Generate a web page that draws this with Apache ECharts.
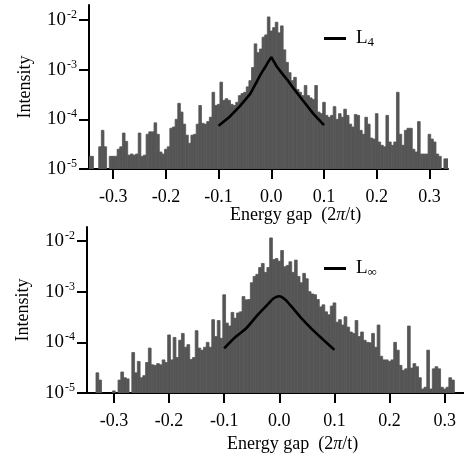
<!DOCTYPE html>
<html><head><meta charset="utf-8">
<script src="https://cdn.jsdelivr.net/npm/echarts@6/dist/echarts.min.js"></script>
<style>html,body{margin:0;padding:0;background:#fff}#c{width:464px;height:459px}</style>
</head><body><div id="c"></div>
<script>
// Histogram bins: centers from binStart, step binWidth
const binStart = -0.345;
const binWidth = 0.005;

const topIntensity = [
  1.8e-5,1.8e-5,0,0,2.8e-5,6e-5,2.8e-5,0,1.8e-5,1.8e-5,
  1.8e-5,2.5e-5,2.8e-5,5.3e-5,3.6e-5,1.9e-5,2e-5,1.9e-5,2e-5,5.3e-5,
  1.8e-5,1.9e-5,5e-5,5.6e-5,5.6e-5,8.5e-5,5e-5,2.2e-5,2e-5,2.5e-5,
  2.8e-5,6.6e-5,7e-5,1.0e-4,2.1e-4,1.4e-4,8e-5,4.8e-5,3.3e-5,4.8e-5,
  5e-5,8e-5,1.9e-4,8.3e-5,8e-5,9e-5,1.1e-4,3.5e-4,1.9e-4,2e-4,
  5.6e-4,2.4e-4,2.6e-4,2.4e-4,2e-4,1.9e-4,2.2e-4,3e-4,3.3e-4,3.5e-4,
  4.5e-4,6e-4,1.1e-3,3.3e-3,2.2e-3,2.6e-3,4.5e-3,5e-3,1.15e-2,6e-3,
  7e-3,9e-3,5.5e-3,7.6e-3,2.5e-3,1.4e-3,8.7e-4,6e-4,7e-4,4e-4,
  3.5e-4,3e-4,4.8e-4,3e-4,2.7e-4,2.5e-4,4.8e-4,1.4e-4,1.3e-4,2.2e-4,
  1.2e-4,1.1e-4,1.2e-4,1.8e-4,1e-4,1.3e-4,1.1e-4,1.6e-4,1.2e-4,8e-5,
  7e-5,1.25e-4,1.2e-4,6e-5,5e-5,1.1e-4,8e-5,4.2e-5,4e-5,1.3e-4,
  3.5e-5,3e-5,2.8e-5,1.2e-4,3.5e-5,3e-5,3.5e-5,3.5e-4,5e-5,3e-5,
  6e-5,6.6e-5,6.6e-5,2.5e-5,2.2e-5,9e-5,2e-5,2e-5,2e-5,5e-5,
  4e-5,3.5e-5,2e-5,1.8e-5,0,1.6e-5,1.6e-5
];

const bottomIntensity = [
  0,0,0,2.5e-5,1.8e-5,0,0,0,0,1.1e-5,
  0,1.8e-5,2.6e-5,2e-5,1.9e-5,0,6.3e-5,2.5e-5,4.2e-5,2e-5,
  2.2e-5,4e-5,7.7e-5,3.6e-5,3.5e-5,3.8e-5,3.6e-5,4.5e-5,4e-5,1.4e-4,
  4.5e-5,1.25e-4,5e-5,1.1e-4,1.5e-4,8e-5,9e-5,4.6e-5,5e-5,1.7e-4,
  7.7e-5,7e-5,8e-5,1e-4,8e-5,2.8e-4,1.3e-4,2.7e-4,1.2e-4,8.7e-4,
  2.4e-4,2.1e-4,3.9e-4,3e-4,3.8e-4,4e-4,8e-4,6.9e-4,7e-4,1.5e-3,
  2e-3,2.2e-3,3e-3,3.6e-3,2.4e-3,3e-3,1.15e-2,4.3e-3,4.5e-3,4e-3,
  6.5e-3,3.1e-3,3.3e-3,3.9e-3,2.4e-3,4.2e-3,2e-3,1.5e-3,2.3e-3,1.8e-3,
  1e-3,9e-4,8.7e-4,7e-4,5e-4,5.5e-4,4e-4,3.5e-4,5.2e-4,6e-4,
  2.5e-4,2.8e-4,2.2e-4,3.2e-4,2e-4,1.6e-4,1.5e-4,2.7e-4,1.3e-4,1.6e-4,
  1.1e-4,1e-4,9.8e-5,1.5e-4,8e-5,2.2e-4,5.3e-5,4.5e-5,4.5e-5,4.2e-5,
  4.5e-5,1e-4,7e-5,3.5e-5,2.8e-5,3e-5,2.1e-4,3.1e-5,3.8e-5,3.3e-5,
  2e-5,1.2e-5,1.3e-5,7e-5,1.2e-5,3e-5,3.3e-5,3e-5,1.3e-5,1.2e-5,
  1.3e-5,2e-5,1.8e-5,0,0,0,0
];

const curveL4X = [-0.1,-0.08,-0.06,-0.04,-0.03,-0.02,-0.01,-0.005,0,0.005,0.01,0.02,0.03,0.04,0.06,0.08,0.1];
const curveL4Y = [7.4e-5,1.1e-4,1.82e-4,3.24e-4,5.1e-4,8.1e-4,1.2e-3,1.48e-3,1.78e-3,1.45e-3,1.17e-3,8.5e-4,6.3e-4,4.5e-4,2.4e-4,1.29e-4,7.6e-5];

const curveLinfX = [-0.1,-0.08,-0.06,-0.04,-0.02,-0.01,0,0.01,0.02,0.04,0.06,0.08,0.1];
const curveLinfY = [7.6e-5,1.26e-4,1.9e-4,3.4e-4,5.75e-4,7.4e-4,8.1e-4,7.1e-4,5.4e-4,3.0e-4,1.78e-4,1.12e-4,7.1e-5];

const xTickValues = [-0.3,-0.2,-0.1,0,0.1,0.2,0.3];
const yTickValues = [1e-5,1e-4,1e-3,1e-2];
const yMin = 1e-5;

const FONT = 'Liberation Serif';
const BAR_COLOR = '#555555';

function binData(arr) {
  return arr.map((v, i) => [binStart + i * binWidth, v]).filter(d => d[1] > yMin);
}
function pairs(xs, ys) { return xs.map((x, i) => [x, ys[i]]); }

function xAxisCfg(idx, min, max) {
  return {
    type: 'value', gridIndex: idx, min: min, max: max,
    axisLine: { onZero: false, lineStyle: { color: '#000', width: 2 } },
    axisTick: { show: true, length: 10, lineStyle: { color: '#000', width: 2 }, customValues: xTickValues },
    axisLabel: { customValues: xTickValues, margin: 19, color: '#000', fontFamily: FONT, fontSize: 18,
      formatter: v => (Math.abs(v) < 1e-9 ? 0 : v).toFixed(1) },
    splitLine: { show: false }
  };
}
function yAxisCfg(idx, max) {
  return {
    type: 'log', logBase: 10, gridIndex: idx, min: yMin, max: max,
    name: 'Intensity', nameLocation: 'middle', nameGap: 55, nameRotate: 90,
    nameTextStyle: { color: '#000', fontFamily: FONT, fontSize: 18 },
    axisLine: { onZero: false, lineStyle: { color: '#000', width: 2 } },
    axisTick: { show: true, length: 10, lineStyle: { color: '#000', width: 2 }, customValues: yTickValues },
    axisLabel: { customValues: yTickValues, margin: 12, color: '#000',
      formatter: v => '{b|10}{s|' + Math.round(Math.log10(v)) + '}',
      rich: {
        b: { fontFamily: FONT, fontSize: 19, color: '#000' },
        s: { fontFamily: FONT, fontSize: 12, color: '#000', verticalAlign: 'top', padding: [0, 0, 10, 1] }
      } },
    minorTick: { show: false },
    splitLine: { show: false }
  };
}
function histSeries(idx, arr) {
  return {
    type: 'custom', xAxisIndex: idx, yAxisIndex: idx, clip: true, silent: true,
    data: binData(arr),
    renderItem: (params, api) => {
      const x = api.value(0), v = api.value(1);
      const p1 = api.coord([x - binWidth / 2, v]);
      const p2 = api.coord([x + binWidth / 2, yMin]);
      return { type: 'rect', shape: { x: p1[0], y: p1[1], width: p2[0] - p1[0], height: p2[1] - p1[1] },
        style: { fill: BAR_COLOR, stroke: BAR_COLOR, lineWidth: 0.8 } };
    },
    z: 1
  };
}
function curveSeries(idx, name, xs, ys, smooth) {
  return {
    type: 'line', name: name, xAxisIndex: idx, yAxisIndex: idx,
    data: pairs(xs, ys), showSymbol: false, smooth: smooth,
    lineStyle: { color: '#000', width: 2.6 }, itemStyle: { color: '#000' }, z: 5
  };
}
function legendCfg(name, sub, top) {
  return {
    data: [name], left: 324, top: top, padding: 0, icon: 'rect', itemWidth: 22, itemHeight: 3,
    selectedMode: false,
    formatter: () => '{m|L}{s|' + sub + '}',
    textStyle: { rich: {
      m: { fontFamily: FONT, fontSize: 19, color: '#000', padding: [0, 0, 0, 5] },
      s: { fontFamily: FONT, fontSize: 13, color: '#000', verticalAlign: 'bottom', padding: [8, 0, 0, 0] }
    } }
  };
}
function titleCfg(left, top) {
  return {
    text: 'Energy gap  (2{i|π}/t)', left: left, top: top, padding: 0,
    textStyle: { fontFamily: FONT, fontSize: 18, fontWeight: 'normal', color: '#000',
      rich: { i: { fontFamily: FONT, fontSize: 18, fontStyle: 'italic', color: '#000' } } }
  };
}

const chart = echarts.init(document.getElementById('c'), null, { renderer: 'canvas' });
chart.setOption({
  backgroundColor: '#fff',
  animation: false,
  title: [titleCfg(230, 206), titleCfg(227, 435)],
  legend: [legendCfg('L4', '4', 29), legendCfg('L∞', '∞', 259)],
  grid: [
    { left: 89, right: 16, top: 5, height: 164 },
    { left: 87, right: 0, top: 227, height: 166 }
  ],
  xAxis: [xAxisCfg(0, -0.3459, 0.3353), xAxisCfg(1, -0.3488, 0.335)],
  yAxis: [yAxisCfg(0, 0.02), yAxisCfg(1, 0.0189)],
  series: [
    histSeries(0, topIntensity),
    histSeries(1, bottomIntensity),
    curveSeries(0, 'L4', curveL4X, curveL4Y, false),
    curveSeries(1, 'L∞', curveLinfX, curveLinfY, 0.3)
  ]
});
</script></body></html>
